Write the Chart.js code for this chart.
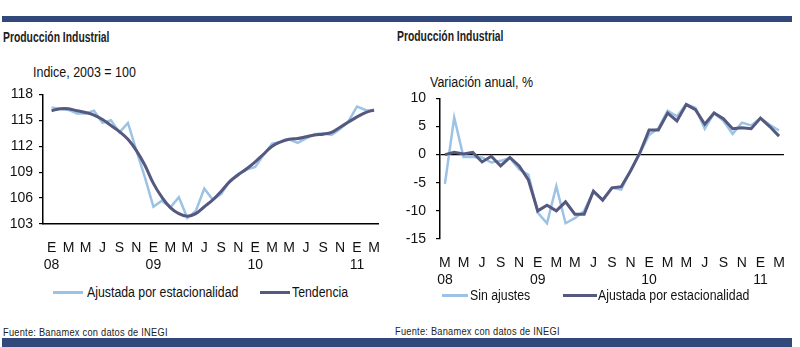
<!DOCTYPE html>
<html>
<head>
<meta charset="utf-8">
<script src="https://cdn.jsdelivr.net/npm/chart.js@4.4.0/dist/chart.umd.min.js"></script>
<style>
  body { margin: 0; background: #fff; }
  #page { position: relative; width: 800px; height: 347px; overflow: hidden; font-family: 'Liberation Sans Narrow', 'Liberation Sans', Arial, sans-serif; color: #111; }
  .bar { position: absolute; left: 2px; width: 790px; background: #30497a; }
  .txt { position: absolute; white-space: nowrap; height: 16px; line-height: 16px; transform-origin: left center; }
  .titulo { font-weight: bold; font-size: 14px; color: #222; transform: scaleX(0.74); }
  .fuente { font-size: 11px; letter-spacing: 0.3px; color: #222; transform: scaleX(0.84); }
  .unidad { font-size: 14px; transform: scaleX(0.89); }
  .leg { position: absolute; height: 3px; }
  .legtxt { font-size: 14px; transform: scaleX(0.88); }
  .wrap { position: absolute; }
</style>
</head>
<body>
<div id="page">
  <div class="bar" style="top:16px;height:6px"></div>
  <div class="bar" style="top:338px;height:9px"></div>

  <div class="txt titulo" style="left:3px;top:29px">Producción Industrial</div>
  <div class="txt titulo" style="left:397px;top:28px">Producción Industrial</div>

  <div class="txt unidad" style="left:33px;top:64px">Indice, 2003 = 100</div>
  <div class="txt unidad" style="left:430px;top:74px">Variación anual, %</div>

  <div class="wrap" style="left:0;top:80px;width:395px;height:200px"><canvas id="izq" width="395" height="200"></canvas></div>
  <div class="wrap" style="left:395px;top:80px;width:405px;height:215px"><canvas id="der" width="405" height="215"></canvas></div>

  <!-- leyendas -->
  <div class="leg" style="left:53px;top:291px;width:30px;background:#9cc3e5"></div>
  <div class="txt legtxt" style="left:87px;top:284px">Ajustada por estacionalidad</div>
  <div class="leg" style="left:260px;top:291px;width:30px;background:#55597f"></div>
  <div class="txt legtxt" style="left:292px;top:284px">Tendencia</div>

  <div class="leg" style="left:442px;top:294px;width:26px;background:#9cc3e5"></div>
  <div class="txt legtxt" style="left:470px;top:287px">Sin ajustes</div>
  <div class="leg" style="left:563px;top:294px;width:34px;background:#55597f"></div>
  <div class="txt legtxt" style="left:598px;top:287px">Ajustada por estacionalidad</div>

  <div class="txt fuente" style="left:3px;top:324px">Fuente: Banamex con datos de INEGI</div>
  <div class="txt fuente" style="left:395px;top:323px">Fuente: Banamex con datos de INEGI</div>
</div>

<script>
// Índice, ene-08 a mar-11 (mensual)
const ajustadaIzq = [116.5, 116.3, 116.2, 115.8, 115.8, 116.1, 114.7, 115.0, 113.6, 114.7,
  111.5, 108.4, 105.0, 105.7, 104.9, 106.1, 103.7, 104.5, 107.1, 105.8,
  106.5, 108.0, 108.8, 109.3, 109.6, 111.0, 112.3, 112.5, 112.8, 112.4,
  112.9, 113.4, 113.5, 113.3, 114.0, 114.9, 116.6, 116.2, 116.1];
const tendenciaIzq = [116.1, 116.35, 116.35, 116.1, 115.9, 115.6, 115.1, 114.4, 113.7, 112.8,
  111.5, 109.8, 107.7, 106.1, 104.9, 104.2, 103.9, 104.2, 105.0, 105.8,
  106.8, 107.9, 108.7, 109.4, 110.2, 111.1, 112.0, 112.5, 112.8, 112.9,
  113.1, 113.3, 113.4, 113.6, 114.2, 114.8, 115.4, 115.9, 116.2];
const mesesIzq = ['E', 'M', 'M', 'J', 'S', 'N', 'E', 'M', 'M', 'J', 'S', 'N', 'E', 'M', 'M', 'J', 'S', 'N', 'E', 'M'];
const aniosIzq = ['08', '', '', '', '', '', '09', '', '', '', '', '', '10', '', '', '', '', '', '11', ''];

// Variación anual %, mar-08 a mar-11
const sinAjustes = [-5.2, 6.6, -0.4, -0.4, -0.5, -1.4, -1.1, -0.6, -2.6, -3.6,
  -10.3, -12.2, -5.6, -12.2, -11.3, -10.0, -6.6, -8.0, -5.9, -6.2,
  -2.8, 0.2, 3.5, 4.7, 7.8, 6.8, 9.0, 8.3, 4.6, 7.4,
  6.0, 3.7, 5.7, 5.2, 6.5, 5.3, 4.3];
const ajustadaDer = [0.0, 0.4, 0.1, 0.4, -1.3, -0.3, -2.0, -0.5, -2.0, -4.5,
  -10.0, -9.0, -10.0, -8.4, -10.6, -10.6, -6.5, -8.1, -5.9, -5.7,
  -2.9, 0.3, 4.4, 4.4, 7.4, 6.0, 8.9, 8.0, 5.4, 7.4,
  6.4, 4.6, 4.8, 4.6, 6.5, 5.0, 3.3];
const mesesDer = ['M', 'M', 'J', 'S', 'N', 'E', 'M', 'M', 'J', 'S', 'N', 'E', 'M', 'M', 'J', 'S', 'N', 'E', 'M'];
const aniosDer = ['08', '', '', '', '', '09', '', '', '', '', '', '10', '', '', '', '', '', '11', ''];

const CLARO = '#9cc3e5';
const OSCURO = '#55597f';
const FUENTE = "'Liberation Sans Narrow', 'Liberation Sans', Arial, sans-serif";

const puntos = (arr) => arr.map((v, i) => ({ x: i, y: v }));

function crearGrafica(id, cfg) {
  return new Chart(document.getElementById(id), {
    type: 'line',
    data: {
      datasets: [
        { data: puntos(cfg.claro), borderColor: CLARO, borderWidth: 2.5, pointRadius: 0, tension: 0, order: 2 },
        { data: puntos(cfg.oscuro), borderColor: OSCURO, borderWidth: 3, pointRadius: 0, tension: cfg.suave ? 0.4 : 0, order: 1 },
      ],
    },
    options: {
      responsive: false,
      animation: false,
      devicePixelRatio: 1,
      layout: { padding: cfg.padding },
      plugins: { legend: { display: false }, tooltip: { enabled: false } },
      scales: {
        x: {
          type: 'linear',
          min: cfg.xMin,
          max: cfg.xMax,
          afterBuildTicks: (axis) => {
            axis.ticks = cfg.meses.map((m, k) => ({ value: k * 2 }));
          },
          afterFit: (scale) => { scale.height = 50; },
          grid: { display: false, drawTicks: false },
          border: { display: cfg.ejeX, color: '#000', width: 1.5 },
          ticks: {
            autoSkip: false,
            maxRotation: 0,
            padding: 15,
            color: '#111',
            font: { family: FUENTE, size: 14, lineHeight: 1.25 },
            callback: (v, k) => cfg.anios[k] ? [cfg.meses[k], cfg.anios[k]] : cfg.meses[k],
          },
        },
        y: {
          min: cfg.yMin,
          max: cfg.yMax,
          afterFit: (scale) => { scale.width = cfg.anchoY; },
          grid: {
            drawOnChartArea: cfg.lineaCero,
            color: (c) => (cfg.lineaCero && c.tick.value === 0) ? '#000' : 'rgba(0,0,0,0)',
            lineWidth: 1.2,
            tickColor: '#000',
            tickLength: 4,
          },
          border: { color: '#000', width: 1.5 },
          ticks: {
            stepSize: cfg.paso,
            padding: cfg.padY,
            color: '#111',
            font: { family: FUENTE, size: 14 },
          },
        },
      },
    },
  });
}

crearGrafica('izq', {
  claro: ajustadaIzq, oscuro: tendenciaIzq, suave: true,
  meses: mesesIzq, anios: aniosIzq,
  xMin: -1.01, xMax: 38.58, yMin: 103, yMax: 118, paso: 3,
  padding: { left: 8, top: 13, right: 12, bottom: 6 },
  anchoY: 35, padY: 6, ejeX: true, lineaCero: false,
});

crearGrafica('der', {
  claro: sinAjustes, oscuro: ajustadaDer, suave: false,
  meses: mesesDer, anios: aniosDer,
  xMin: -0.53, xMax: 36.53, yMin: -15, yMax: 10, paso: 5,
  padding: { left: 5, top: 14, right: 10, bottom: 6 },
  anchoY: 40, padY: 10, ejeX: false, lineaCero: true,
});
</script>
</body>
</html>
